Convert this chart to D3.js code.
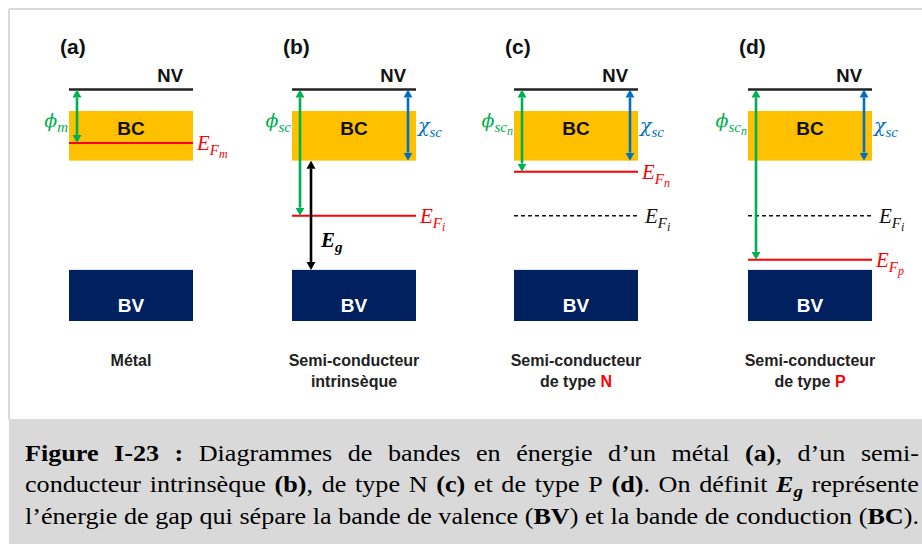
<!DOCTYPE html>
<html>
<head>
<meta charset="utf-8">
<script src="https://cdn.jsdelivr.net/npm/d3@7"></script>
<style>
  body { margin: 0; background: #fff; }
  svg { display: block; }
  .sans { font-family: "Liberation Sans", Arial, Helvetica, sans-serif; }
  .serif { font-family: "Liberation Serif", "Times New Roman", Times, serif; }
  .greek { font-family: "DejaVu Serif", serif; }
</style>
</head>
<body>
<div id="chart"></div>
<script>
// panels and their text
const panels = ["a", "b", "c", "d"];
const panelTags = ["(a)", "(b)", "(c)", "(d)"];
const captionTop = ["Métal", "Semi-conducteur", "Semi-conducteur", "Semi-conducteur"];
const captionBottom = ["", "intrinsèque", "de type ", "de type "];
const dopantLetter = ["", "", "N", "P"];

// energy levels (arbitrary units, vacuum level = 0)
const vacuumLevel = [0, 0, 0, 0];
const bcTop = [-2.15, -2.15, -2.15, -2.15];
const bcBottom = [-7.1, -7.1, -7.1, -7.1];
const bvTop = [-18, -18, -18, -18];
const bvBottom = [-23.1, -23.1, -23.1, -23.1];
const fermiLevel = [-5.35, -12.6, -8.2, -17];
const fermiSub = ["m", "i", "n", "p"];
const intrinsicLevel = [null, null, -12.6, -12.6];

// arrows / labels
const phiSub = ["m", "sc", "sc", "sc"];
const phiSubSub = ["", "", "n", "n"];
const hasChi = [false, true, true, true];
const hasGap = [false, true, false, false];

// caption lines (**bold**, {Eg} = bold italic E with subscript g)
const captionLines = [
  "**Figure I-23 :** Diagrammes de bandes en énergie d’un métal **(a)**, d’un semi-",
  "conducteur intrinsèque **(b)**, de type N **(c)** et de type P **(d)**. On définit {Eg} représente",
  "l’énergie de gap qui sépare la bande de valence (**BV**) et la bande de conduction (**BC**)."
];

const W = 922, H = 544;
const green = "#00B050", blue = "#0070C0", red = "#FF0000", navy = "#002060", gold = "#FFC000";

const svg = d3.select("#chart").append("svg").attr("width", W).attr("height", H);

// frame + caption background
svg.append("rect").attr("x", 9).attr("y", 419).attr("width", W - 9).attr("height", H - 419).attr("fill", "#d9d9d9");
svg.append("line").attr("x1", 9).attr("x2", W).attr("y1", 9).attr("y2", 9).attr("stroke", "#d9d9d9").attr("stroke-width", 2);
svg.append("line").attr("x1", 9).attr("x2", 9).attr("y1", 9).attr("y2", 419).attr("stroke", "#d9d9d9").attr("stroke-width", 2);

const y = d3.scaleLinear().domain([0, -23.1]).range([89.5, 321]);
const x = d3.scaleOrdinal().domain(panels).range([69, 292, 514, 748]);
const bandW = 124;

// arrow heads
const defs = svg.append("defs");
[["g", green], ["b", blue], ["k", "#000"]].forEach(([id, c]) => {
  defs.append("marker")
    .attr("id", "arr-" + id)
    .attr("viewBox", "0 -5 8 10")
    .attr("refX", 0).attr("refY", 0)
    .attr("markerUnits", "userSpaceOnUse")
    .attr("markerWidth", 8).attr("markerHeight", 10)
    .attr("orient", "auto-start-reverse")
    .append("path").attr("d", "M0,-4.5L8,0L0,4.5Z").attr("fill", c);
});

function arrow(g, xx, y1, y2, id, color) {
  const head = 8;
  g.append("line")
    .attr("x1", xx).attr("x2", xx)
    .attr("y1", y1 + head).attr("y2", y2 - head)
    .attr("stroke", color).attr("stroke-width", 2.6)
    .attr("marker-start", `url(#arr-${id})`)
    .attr("marker-end", `url(#arr-${id})`);
}

function mathLabel(g, xx, yy, base, sub, subsub, color, anchor, bold, greek) {
  const t = g.append("text")
    .attr("class", "serif")
    .attr("x", xx).attr("y", yy)
    .attr("text-anchor", anchor || "start")
    .attr("fill", color)
    .attr("font-style", "italic")
    .attr("font-weight", bold ? "bold" : "normal");
  t.append("tspan").attr("class", greek ? "greek" : null)
    .attr("font-size", greek ? 19 : 21).text(base);
  if (sub) t.append("tspan").attr("font-size", 15).attr("dy", 5).text(sub);
  if (subsub) t.append("tspan").attr("font-size", 12).attr("dy", 3).text(subsub);
  return t;
}

panels.forEach((p, i) => {
  const g = svg.append("g");
  const left = x(p), right = x(p) + bandW;

  g.append("text").attr("class", "sans").attr("x", left - 9).attr("y", 54)
    .attr("font-weight", "bold").attr("font-size", 21)
    .attr("fill", "#111").text(panelTags[i]);

  // conduction band
  g.append("rect").attr("x", left).attr("width", bandW)
    .attr("y", y(bcTop[i])).attr("height", y(bcBottom[i]) - y(bcTop[i]))
    .attr("fill", gold);
  g.append("text").attr("class", "sans").attr("x", left + bandW / 2).attr("y", y(bcTop[i]) + 24)
    .attr("text-anchor", "middle").attr("font-weight", "bold")
    .attr("font-size", 19).attr("fill", "#111").text("BC");

  // valence band
  g.append("rect").attr("x", left).attr("width", bandW)
    .attr("y", y(bvTop[i])).attr("height", y(bvBottom[i]) - y(bvTop[i]))
    .attr("fill", navy);
  g.append("text").attr("class", "sans").attr("x", left + bandW / 2).attr("y", y(bvTop[i]) + 42)
    .attr("text-anchor", "middle").attr("font-weight", "bold")
    .attr("font-size", 19).attr("fill", "#fff").text("BV");

  // vacuum level
  g.append("line").attr("x1", left).attr("x2", right)
    .attr("y1", y(vacuumLevel[i])).attr("y2", y(vacuumLevel[i]))
    .attr("stroke", "#222").attr("stroke-width", 2.5);
  g.append("text").attr("class", "sans").attr("x", right - 10).attr("y", y(vacuumLevel[i]) - 7.5)
    .attr("text-anchor", "end").attr("font-weight", "bold")
    .attr("font-size", 18.5).attr("fill", "#111").text("NV");

  // intrinsic level (dashed)
  if (intrinsicLevel[i] !== null) {
    g.append("line").attr("x1", left).attr("x2", right)
      .attr("y1", y(intrinsicLevel[i])).attr("y2", y(intrinsicLevel[i]))
      .attr("stroke", "#111").attr("stroke-width", 1.5).attr("stroke-dasharray", "4,3");
    mathLabel(g, right + 7, y(intrinsicLevel[i]) + 7, "E", "F", "i", "#111");
  }

  // fermi level
  g.append("line").attr("x1", left).attr("x2", right)
    .attr("y1", y(fermiLevel[i])).attr("y2", y(fermiLevel[i]))
    .attr("stroke", red).attr("stroke-width", 2);
  mathLabel(g, right + 4, y(fermiLevel[i]) + 7, "E", "F", fermiSub[i], red);

  // work function
  arrow(g, left + 8, y(vacuumLevel[i]), y(fermiLevel[i]), "g", green);
  mathLabel(g, left - 1, y(bcTop[i]) + 16, "ϕ", phiSub[i], phiSubSub[i], green, "end", false, true);

  // electron affinity
  if (hasChi[i]) {
    arrow(g, right - 8, y(vacuumLevel[i]), y(bcBottom[i]), "b", blue);
    mathLabel(g, right + 2, y(bcTop[i]) + 21, "χ", "sc", "", blue, "start", false, true);
  }

  // gap
  if (hasGap[i]) {
    arrow(g, left + 19, y(bcBottom[i]), y(bvTop[i]), "k", "#000");
    mathLabel(g, left + 29, y(bvTop[i]) - 23, "E", "g", "", "#000", "start", true);
  }

  // panel captions
  g.append("text").attr("class", "sans").attr("x", left + bandW / 2).attr("y", 366)
    .attr("text-anchor", "middle").attr("font-weight", "bold")
    .attr("font-size", 16).attr("fill", "#222").text(captionTop[i]);
  if (captionBottom[i]) {
    const t = g.append("text").attr("class", "sans").attr("x", left + bandW / 2).attr("y", 387)
      .attr("text-anchor", "middle").attr("font-weight", "bold")
      .attr("font-size", 16).attr("fill", "#222");
    t.append("tspan").text(captionBottom[i]);
    if (dopantLetter[i]) t.append("tspan").attr("fill", red).text(dopantLetter[i]);
  }
});

// ---- figure caption, justified ----
function parseLine(str) {
  const segs = [];
  str.split(/(\*\*.*?\*\*|\{Eg\})/).forEach(part => {
    if (!part) return;
    if (part.startsWith("**")) segs.push({ t: part.slice(2, -2), s: "b" });
    else if (part === "{Eg}") segs.push({ t: "Eg", s: "eg" });
    else segs.push({ t: part, s: "n" });
  });
  const words = [[]];
  segs.forEach(sg => {
    sg.t.split(" ").forEach((pt, k) => {
      if (k > 0) words.push([]);
      if (pt) words[words.length - 1].push({ t: pt, s: sg.s });
    });
  });
  return words.filter(w => w.length);
}

const capFont = 24;
const capLeft = 25, capRight = 919;
const baselines = [461, 492, 524];
const capG = svg.append("g");

const lineData = captionLines.map((str, li) => {
  const words = parseLine(str).map(w => {
    const t = capG.append("text").attr("class", "serif").attr("y", baselines[li])
      .attr("font-size", capFont).attr("fill", "#000");
    w.forEach(sg => {
      if (sg.s === "eg") {
        t.append("tspan").attr("font-weight", "bold").attr("font-style", "italic").text("E");
        t.append("tspan").attr("font-weight", "bold").attr("font-style", "italic")
          .attr("font-size", capFont * 0.72).attr("dy", 5).text("g");
      } else {
        t.append("tspan").attr("font-weight", sg.s === "b" ? "bold" : "normal").text(sg.t);
      }
    });
    return { node: t, w: t.node().getComputedTextLength() };
  });
  return words;
});

const spaceW = capFont * 0.25;
const last = lineData[2];
const natural = d3.sum(last, d => d.w) + spaceW * (last.length - 1);
const sx = (capRight - capLeft) / natural;
capG.attr("transform", `translate(${capLeft},0) scale(${sx},1)`);

lineData.forEach(words => {
  const total = d3.sum(words, d => d.w);
  const gap = ((capRight - capLeft) / sx - total) / (words.length - 1);
  let cx = 0;
  words.forEach(d => {
    d.node.attr("x", cx);
    cx += d.w + gap;
  });
});
</script>
</body>
</html>
